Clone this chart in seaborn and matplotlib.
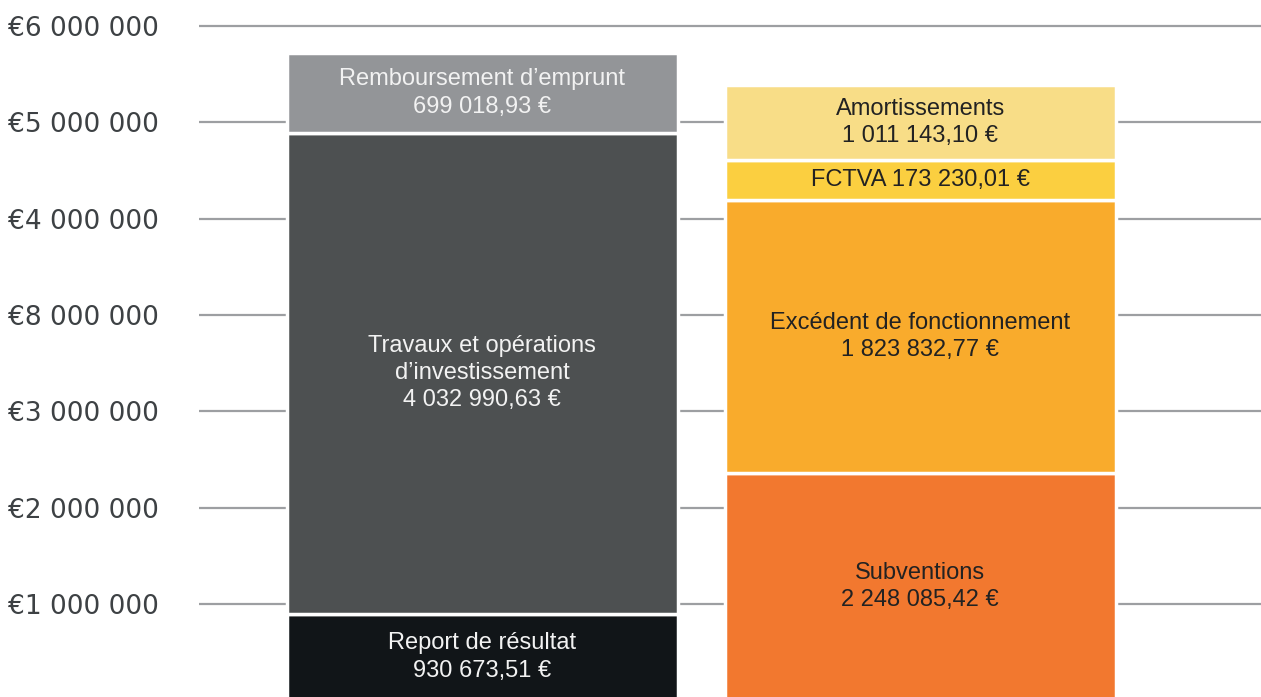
import matplotlib
matplotlib.use("Agg")
import matplotlib.pyplot as plt
import seaborn as sns

# two stacked bars: spending (left) and funding (right)
bar_names = ["Dépenses", "Recettes"]

# segments bottom -> top, heights as drawn on the axis (euros)
left_heights = [902000, 4986000, 829000]
left_labels = ["Report de résultat\n930 673,51 €",
               "Travaux et opérations\nd’investissement\n4 032 990,63 €",
               "Remboursement d’emprunt\n699 018,93 €"]
left_colors = ["#111518", "#4d5051", "#939598"]

right_heights = [2357000, 2832000, 413000, 781000]
right_labels = ["Subventions\n2 248 085,42 €",
                "Excédent de fonctionnement\n1 823 832,77 €",
                "FCTVA 173 230,01 €",
                "Amortissements\n1 011 143,10 €"]
right_colors = ["#f2782f", "#f9ab2c", "#fbcf40", "#f8dd87"]

# tick labels exactly as printed on the chart
tick_values = [1e6, 2e6, 3e6, 4e6, 5e6, 6e6, 7e6]
tick_labels = ["€1 000 000", "€2 000 000", "€3 000 000", "€8 000 000",
               "€4 000 000", "€5 000 000", "€6 000 000"]

sns.set_style("white")
plt.rcParams["font.family"] = ["Liberation Sans", "DejaVu Sans"]

fig = plt.figure(figsize=(12.61, 6.97), dpi=100)
ax = fig.add_axes([199 / 1261, 0, 1062 / 1261, 1])

stacks = [(bar_names[0], left_heights, left_labels, left_colors, "#f2f2f2"),
          (bar_names[1], right_heights, right_labels, right_colors, "#222222")]

for i, (name, heights, labels, colors, txt_color) in enumerate(stacks):
    base = 0
    for h, lab, c in zip(heights, labels, colors):
        sns.barplot(x=[name], y=[h], order=bar_names, color=c, saturation=1,
                    width=0.893, bottom=base, edgecolor="white", linewidth=2.5,
                    ax=ax)
        ax.text(i, base + h / 2, lab, ha="center", va="center", fontsize=17,
                color=txt_color, linespacing=1.3, zorder=5)
        base += h

ax.set_xlim(-0.647, 1.778)
ax.set_ylim(36000, 7267000)
ax.set_yticks(tick_values)
ax.set_yticklabels(tick_labels, fontsize=19, color="#3d4144",
                   family=["DejaVu Sans"], ha="left")
ax.tick_params(axis="y", length=0, pad=137.5)
ax.set_xticks([])
ax.set_xlabel("")
ax.set_ylabel("")
ax.yaxis.grid(True, color="#9d9fa2", linewidth=1.6)
ax.set_axisbelow(True)
sns.despine(ax=ax, left=True, bottom=True)

fig.savefig("out.png", dpi=100)
